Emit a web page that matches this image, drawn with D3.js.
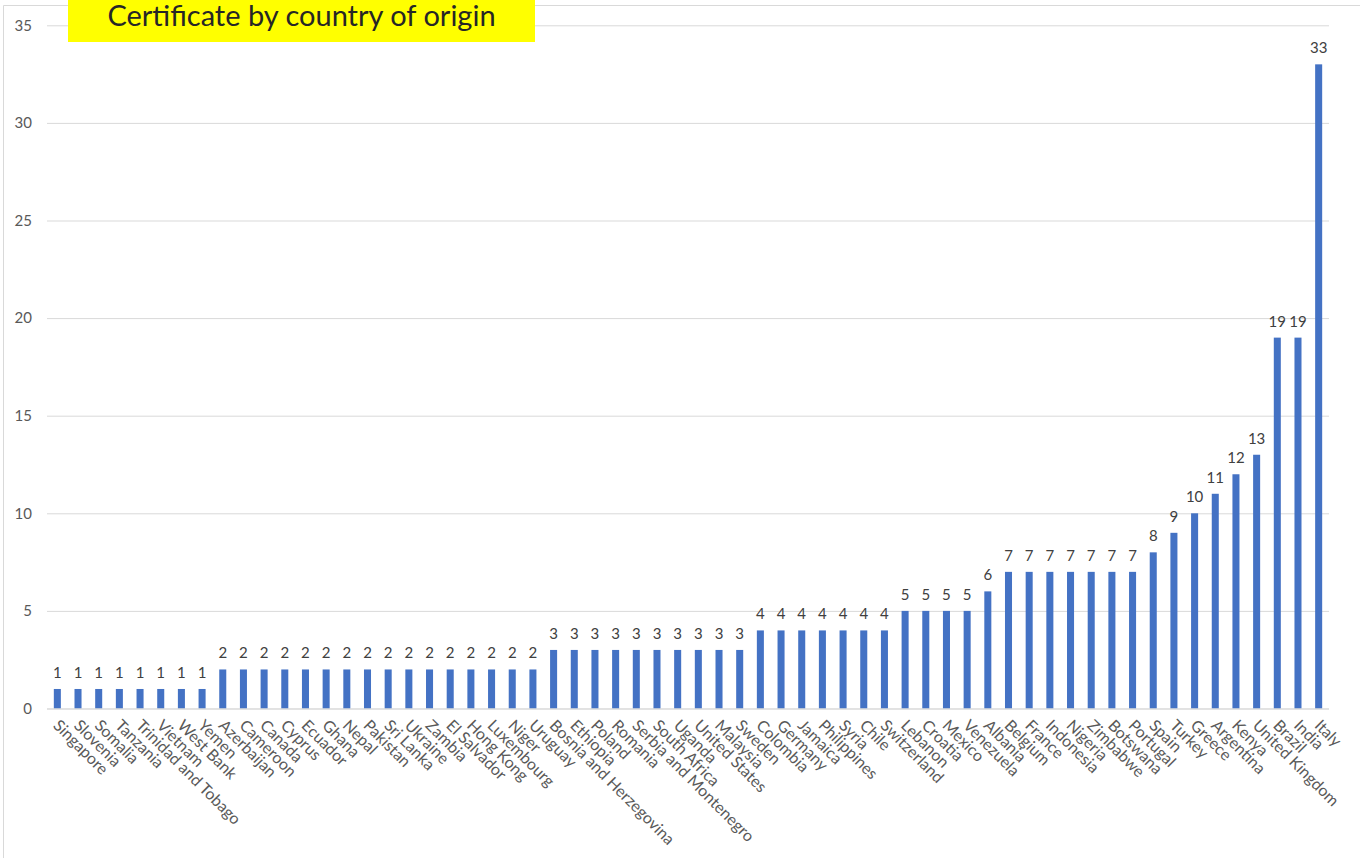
<!DOCTYPE html>
<html><head><meta charset="utf-8">
<script src="https://cdn.jsdelivr.net/npm/d3@7"></script>
<style>body{margin:0;background:#fff;} svg{display:block;}</style>
</head><body>
<svg id="c" width="1367" height="858"></svg>
<script>
const countries = ["Singapore","Slovenia","Somalia","Tanzania","Trinidad and Tobago","Vietnam","West Bank","Yemen",
"Azerbaijan","Cameroon","Canada","Cyprus","Ecuador","Ghana","Nepal","Pakistan","Sri Lanka","Ukraine","Zambia","El Salvador","Hong Kong","Luxembourg","Niger","Uruguay",
"Bosnia and Herzegovina","Ethiopia","Poland","Romania","Serbia and Montenegro","South Africa","Uganda","United States","Malaysia","Sweden",
"Colombia","Germany","Jamaica","Philippines","Syria","Chile","Switzerland",
"Lebanon","Croatia","Mexico","Venezuela","Albania",
"Belgium","France","Indonesia","Nigeria","Zimbabwe","Botswana","Portugal",
"Spain","Turkey","Greece","Argentina","Kenya","United Kingdom","Brazil","India","Italy"];
const counts = [1,1,1,1,1,1,1,1,
2,2,2,2,2,2,2,2,2,2,2,2,2,2,2,2,
3,3,3,3,3,3,3,3,3,3,
4,4,4,4,4,4,4,
5,5,5,5,6,
7,7,7,7,7,7,7,
8,9,10,11,12,13,19,19,33];
const yTicks = [0,5,10,15,20,25,30,35];
const title = "Certificate by country of origin";

const svg = d3.select("#c");
const font = "Lato, 'Open Sans', sans-serif";
const pL = 47, pR = 1329, pT = 25.3, pB = 708.5;

// frame
svg.append("line").attr("x1",3.5).attr("x2",1360).attr("y1",5.5).attr("y2",5.5).attr("stroke","#d9d9d9");
svg.append("line").attr("x1",3.5).attr("x2",3.5).attr("y1",5.5).attr("y2",858).attr("stroke","#d9d9d9");

const x = d3.scaleBand().domain(countries).range([pL,pR]).paddingInner(0.66).paddingOuter(0.33);
const y = d3.scaleLinear().domain([0,35]).range([pB,pT]);

// gridlines
const yAxis = d3.axisLeft(y).tickValues(yTicks).tickSize(-(pR-pL)).tickPadding(15);
const gy = svg.append("g").attr("transform",`translate(${pL},0)`).call(yAxis);
gy.select(".domain").remove();
gy.selectAll(".tick line").attr("stroke","#d9d9d9").attr("stroke-width",1);
gy.selectAll(".tick text").attr("fill","#595959").style("font-family",font).style("font-size","15px");

// bars
svg.append("g").selectAll("rect").data(countries).join("rect")
  .attr("x",d=>x(d)).attr("width",x.bandwidth())
  .attr("y",(d,i)=>y(counts[i])).attr("height",(d,i)=>y(0)-y(counts[i]))
  .attr("fill","#4472c4");

// value labels
svg.append("g").selectAll("text").data(countries).join("text")
  .attr("x",d=>x(d)+x.bandwidth()/2).attr("y",(d,i)=>y(counts[i])-11)
  .attr("text-anchor","middle").attr("fill","#404040")
  .style("font-family",font).style("font-size","15px")
  .text((d,i)=>counts[i]);

// x axis
const xAxis = d3.axisBottom(x).tickSize(0).tickPadding(0);
const gx = svg.append("g").attr("transform",`translate(0,${pB})`).call(xAxis);
gx.select(".domain").attr("stroke","#d9d9d9").attr("d",`M${pL},0.5H${pR}`);
gx.selectAll(".tick text")
  .attr("fill","#595959").style("font-family",font).style("font-size","16px")
  .attr("text-anchor","start").attr("x",0).attr("y",0).attr("dy",0)
  .attr("transform","translate(-5,18) rotate(45)");

// title
const tb = svg.append("g");
tb.append("rect").attr("x",68).attr("y",0).attr("width",467).attr("height",42).attr("fill","#ffff00");
tb.append("text").attr("x",301.5).attr("y",26).attr("text-anchor","middle")
  .attr("fill","#262626").style("font-family",font).style("font-size","29px").text(title);
</script>
</body></html>
